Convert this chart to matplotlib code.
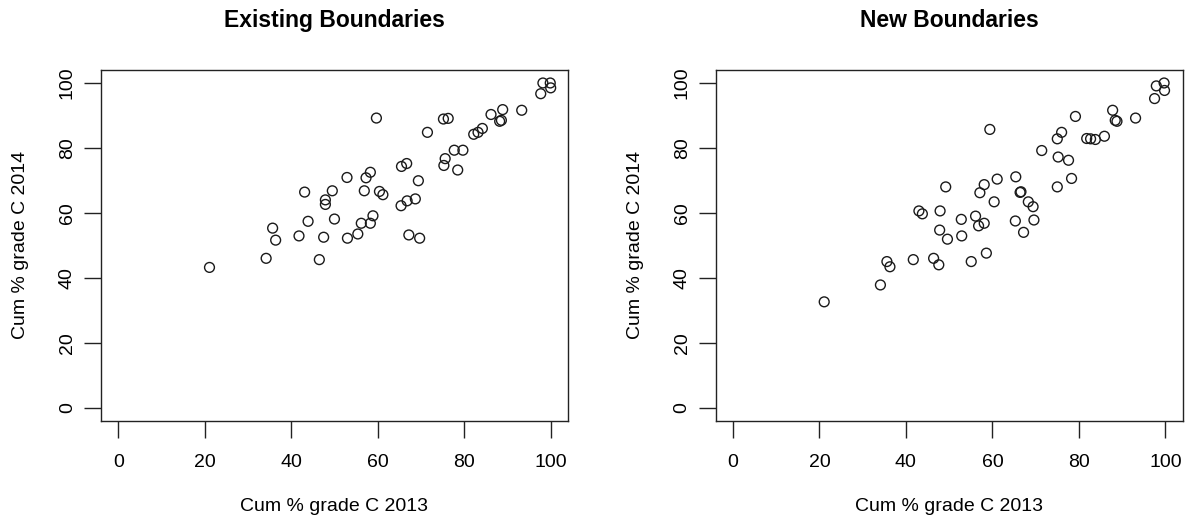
import matplotlib.pyplot as plt

# 2013 vs 2014 cumulative % grade C, per school
existing_x = [21.1, 34.2, 35.7, 36.4, 41.8, 43.1, 43.9, 46.5, 47.5, 47.9,
              47.9, 49.5, 50.0, 52.9, 53.0, 55.4, 56.2, 56.9, 57.3, 58.3,
              58.3, 58.9, 59.7, 60.4, 61.2, 65.4, 65.5, 66.7, 66.8, 67.2,
              68.7, 69.4, 69.7, 71.5, 75.2, 75.3, 75.6, 76.3, 77.7, 78.5,
              79.7, 82.2, 83.2, 84.2, 86.2, 88.2, 88.6, 88.9, 93.3, 97.7,
              98.2, 99.9, 100.0]
existing_y = [43.2, 46.0, 55.3, 51.6, 52.9, 66.4, 57.4, 45.6, 52.5, 64.0,
              62.6, 66.8, 58.1, 70.9, 52.2, 53.5, 56.8, 66.8, 70.8, 72.5,
              56.8, 59.1, 89.2, 66.6, 65.6, 62.2, 74.3, 75.2, 63.7, 53.2,
              64.3, 69.9, 52.2, 84.8, 88.9, 74.6, 76.7, 89.1, 79.3, 73.2,
              79.3, 84.2, 84.8, 86.0, 90.3, 88.2, 88.5, 91.8, 91.6, 96.7,
              100.0, 100.0, 98.5]

new_x = [21.1, 34.1, 35.6, 36.3, 41.7, 43.0, 43.8, 46.4, 47.6, 47.9,
         47.8, 49.6, 49.2, 52.9, 52.8, 55.1, 56.1, 56.8, 58.1, 58.6,
         57.1, 58.1, 59.4, 60.4, 61.1, 65.4, 66.4, 66.6, 65.3, 67.2,
         68.3, 69.4, 69.6, 71.4, 75.0, 76.0, 75.2, 77.6, 75.0, 78.3,
         79.2, 81.8, 82.7, 83.8, 85.9, 87.8, 88.4, 88.8, 93.1, 97.5,
         97.9, 99.7, 99.8]
new_y = [32.6, 37.8, 45.0, 43.4, 45.6, 60.6, 59.7, 46.0, 44.0, 60.6,
         54.7, 51.9, 68.0, 52.9, 58.0, 45.0, 59.0, 56.0, 56.8, 47.6,
         66.2, 68.7, 85.7, 63.4, 70.4, 71.1, 66.3, 66.5, 57.5, 54.0,
         63.4, 61.9, 57.8, 79.2, 82.8, 84.8, 77.2, 76.2, 68.0, 70.6,
         89.7, 82.9, 82.8, 82.6, 83.6, 91.6, 88.5, 88.2, 89.2, 95.2,
         99.1, 100.0, 97.7]

titles = ["Existing Boundaries", "New Boundaries"]
ticks = [0, 20, 40, 60, 80, 100]

plt.rcParams['font.family'] = ['Liberation Sans', 'DejaVu Sans']

fig = plt.figure(figsize=(11.89, 5.22), dpi=100)
ax1 = fig.add_axes([0.0849, 0.1941, 0.3928, 0.6718])
ax2 = fig.add_axes([0.6019, 0.1941, 0.3928, 0.6718])

for ax, xs, ys, title in [(ax1, existing_x, existing_y, titles[0]),
                          (ax2, new_x, new_y, titles[1])]:
    ax.scatter(xs, ys, s=50, facecolors='none', edgecolors='#1a1a1a', linewidths=1.0)
    ax.set_xlim(-4, 104)
    ax.set_ylim(-4, 104)
    ax.set_xticks(ticks)
    ax.set_yticks(ticks)
    ax.tick_params(length=12, width=1, labelsize=14, color='#222222')
    ax.tick_params(axis='x', pad=12)
    ax.tick_params(axis='y', pad=6, labelrotation=90)
    for lab in ax.get_yticklabels():
        lab.set_va('center')
    for sp in ax.spines.values():
        sp.set_color('#222222')
        sp.set_linewidth(1)
    ax.set_title(title, fontsize=16.5, fontweight='bold', pad=31)
    ax.set_xlabel("Cum % grade C 2013", fontsize=14)
    ax.set_ylabel("Cum % grade C 2014", fontsize=14)
    ax.xaxis.set_label_coords(0.5, -0.22)
    ax.yaxis.set_label_coords(-0.172, 0.5)
    ax.yaxis.label.set_va('center')

fig.savefig("out.png", dpi=100)
